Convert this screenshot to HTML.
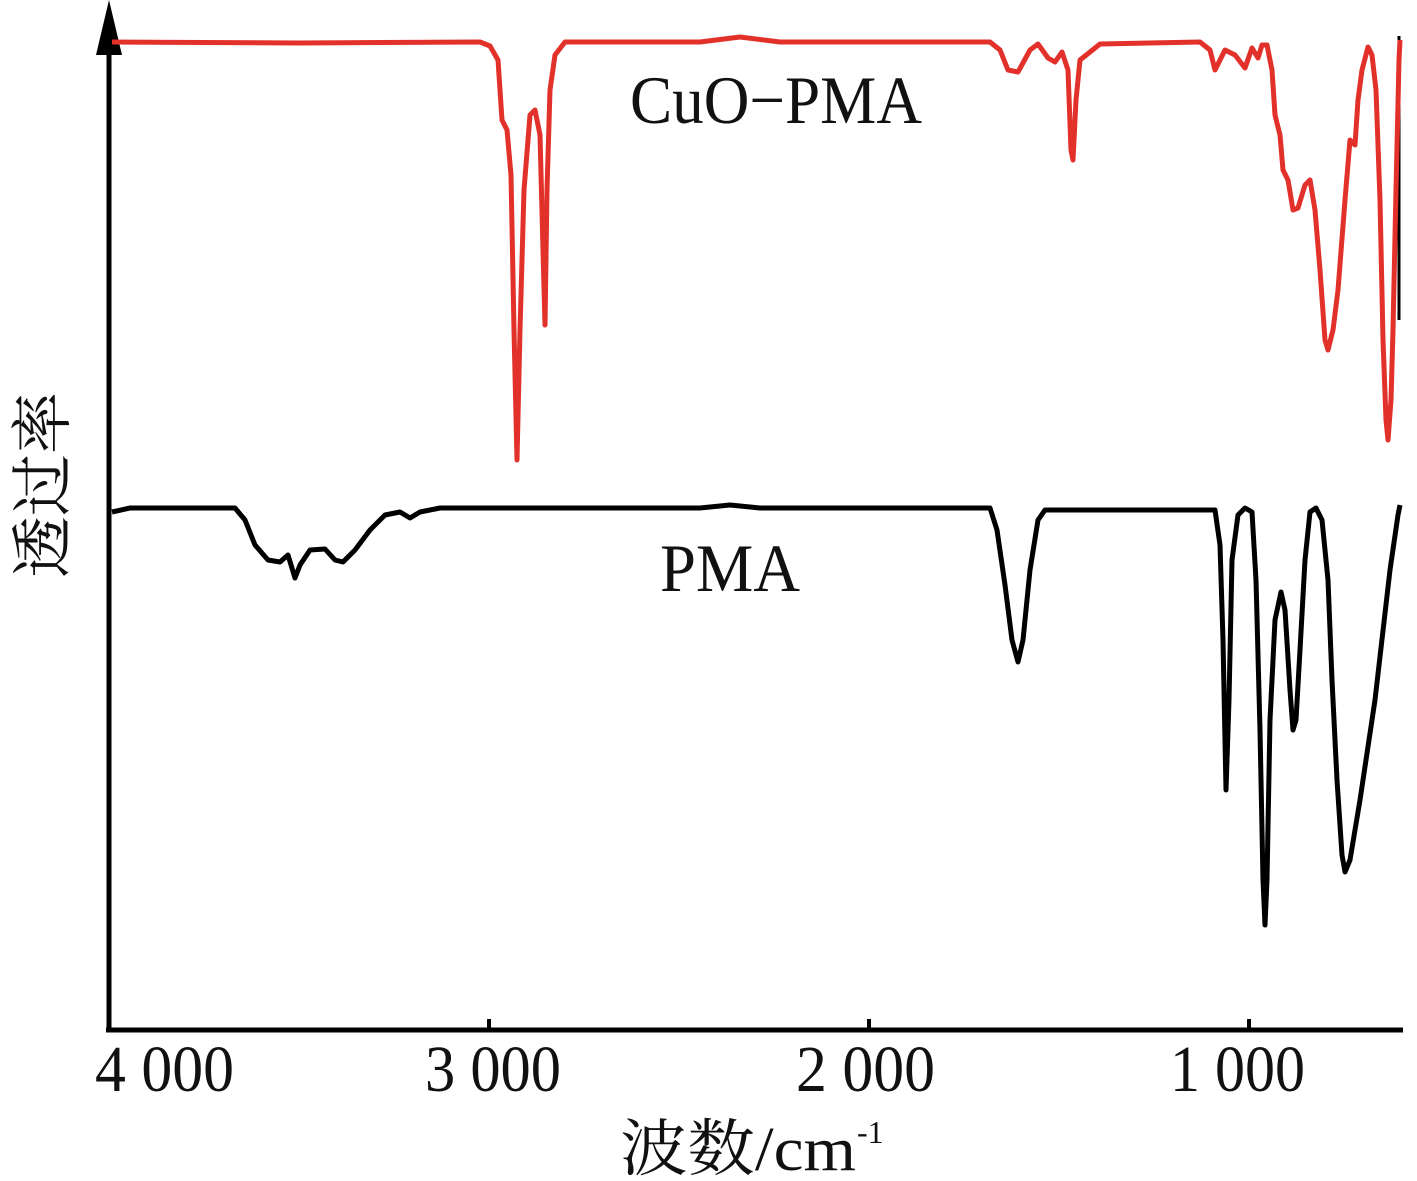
<!DOCTYPE html>
<html><head><meta charset="utf-8"><style>html,body{margin:0;padding:0;background:#fff;}svg{display:block;}</style></head>
<body>
<svg width="1417" height="1181" viewBox="0 0 1417 1181" xmlns="http://www.w3.org/2000/svg">
<rect width="1417" height="1181" fill="#fff"/>
<line x1="109" y1="40" x2="109" y2="1032" stroke="#000" stroke-width="5"/>
<polygon points="109,0 96,55 122,55" fill="#000"/>
<line x1="106" y1="1030" x2="1403" y2="1030" stroke="#000" stroke-width="5"/>
<line x1="489" y1="1030" x2="489" y2="1019" stroke="#000" stroke-width="4"/>
<line x1="869" y1="1030" x2="869" y2="1019" stroke="#000" stroke-width="4"/>
<line x1="1249" y1="1030" x2="1249" y2="1019" stroke="#000" stroke-width="4"/>
<line x1="1399" y1="36" x2="1399" y2="320" stroke="#000" stroke-width="3"/>
<polyline fill="none" stroke="#e2312a" stroke-width="5" stroke-linejoin="round" points="112,42 300,43 480,42 490,46 498,60 502,120 507,130 511,175 514,330 517,460 520,330 524,190 530,115 535,110 540,135 543,250 545,325 547,190 550,90 555,55 565,42 700,42 740,37 780,42 990,42 1000,50 1008,70 1018,72 1030,50 1038,44 1048,58 1055,62 1062,52 1068,70 1071,150 1073,160 1076,100 1080,60 1090,52 1100,44 1200,42 1210,50 1215,70 1225,50 1235,55 1245,68 1252,48 1258,58 1262,45 1267,45 1272,70 1275,115 1280,135 1283,170 1288,180 1293,210 1298,208 1305,185 1310,180 1315,210 1320,270 1325,340 1328,350 1333,330 1338,290 1345,200 1350,140 1355,145 1358,100 1362,70 1368,47 1372,55 1376,90 1380,200 1383,340 1386,420 1388,440 1391,400 1393,330 1396,190 1399,60 1400,40"/>
<polyline fill="none" stroke="#000" stroke-width="5" stroke-linejoin="round" points="112,512 130,508 235,508 245,520 255,545 268,560 280,562 288,555 295,578 300,565 310,550 325,549 335,560 343,562 355,550 370,530 385,515 400,512 410,518 420,512 440,508 700,508 730,505 760,508 990,508 997,530 1005,585 1012,640 1018,662 1023,640 1030,570 1038,520 1045,510 1215,510 1220,545 1223,640 1226,790 1229,700 1232,560 1238,515 1245,508 1252,512 1256,580 1260,730 1263,880 1265,925 1267,880 1270,720 1275,620 1281,592 1285,610 1290,690 1293,730 1296,720 1300,650 1305,560 1310,512 1316,508 1322,520 1328,580 1332,680 1337,780 1342,855 1345,872 1350,860 1360,800 1375,700 1390,570 1398,515 1400,505"/>
<g font-family="'Liberation Serif','Noto Serif CJK SC',serif" fill="#111">
<text x="630" y="123" font-size="68" textLength="292" lengthAdjust="spacingAndGlyphs">CuO−PMA</text>
<text x="660" y="591" font-size="68" textLength="140" lengthAdjust="spacingAndGlyphs">PMA</text>
<text x="95" y="1091" font-size="66" textLength="139" lengthAdjust="spacingAndGlyphs">4 000</text>
<text x="425" y="1091" font-size="66" textLength="136" lengthAdjust="spacingAndGlyphs">3 000</text>
<text x="796" y="1091" font-size="66" textLength="139" lengthAdjust="spacingAndGlyphs">2 000</text>
<text x="1170" y="1091" font-size="66" textLength="135" lengthAdjust="spacingAndGlyphs">1 000</text>
<text x="620" y="1170" font-size="62" textLength="236" lengthAdjust="spacingAndGlyphs">波数/cm</text>
<text x="857" y="1143" font-size="32">-1</text>
<text transform="translate(64,578) rotate(-90)" font-size="62" textLength="186" lengthAdjust="spacingAndGlyphs">透过率</text>
</g>
</svg>
</body></html>
